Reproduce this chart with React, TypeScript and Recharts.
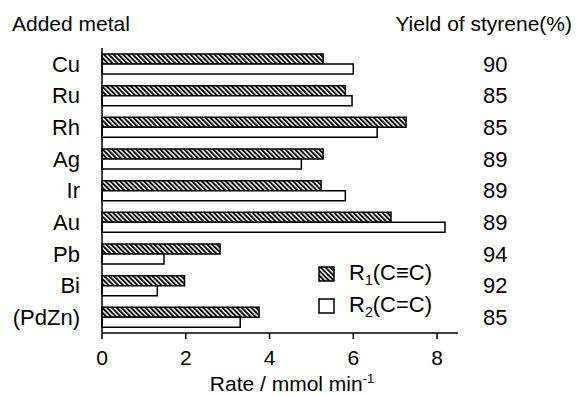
import React from 'react';
import { BarChart, Bar, XAxis, YAxis, Legend, Label } from 'recharts';

const metals = ['Cu', 'Ru', 'Rh', 'Ag', 'Ir', 'Au', 'Pb', 'Bi', '(PdZn)'];
const rateR1 = [5.28, 5.81, 7.26, 5.28, 5.23, 6.9, 2.82, 1.97, 3.75];
const rateR2 = [6.0, 5.97, 6.57, 4.76, 5.81, 8.19, 1.48, 1.32, 3.3];
const yields = [90, 85, 85, 89, 89, 89, 94, 92, 85];
const rateTicks = [0, 2, 4, 6, 8];

const rows = metals.map((metal, i) => ({ metal, r1: rateR1[i], r2: rateR2[i], yield: yields[i] }));

const FONT = '"Liberation Sans", Arial, sans-serif';
const TEXT_SIZE = 21;

const HatchIcon = ({ hatched }: { hatched: boolean }) => (
    <svg width={17} height={16} style={{ display: 'block' }}>
        <defs>
            <pattern id="legendHatch" patternUnits="userSpaceOnUse" width={3.4} height={3.4} patternTransform="rotate(-45)">
                <rect width={3.4} height={3.4} fill="#fff" />
                <rect width={1.9} height={3.4} fill="#000" />
            </pattern>
        </defs>
        <rect x={1} y={1} width={15} height={14} fill={hatched ? 'url(#legendHatch)' : '#fff'} stroke="#000" strokeWidth={1.5} />
    </svg>
);

const renderLegend = (props: any) => {
    const { payload } = props;
    return (
        <div style={{ fontFamily: FONT, fontSize: 22, color: '#000' }}>
            {payload.map((entry: any) => (
                <div key={entry.dataKey} style={{ display: 'flex', alignItems: 'center', height: 32 }}>
                    <HatchIcon hatched={entry.dataKey === 'r1'} />
                    <span style={{ marginLeft: 14 }}>
                        R<sub style={{ fontSize: 14 }}>{entry.dataKey === 'r1' ? '1' : '2'}</sub>
                        {entry.dataKey === 'r1' ? '(C\u2261C)' : '(C=C)'}
                    </span>
                </div>
            ))}
        </div>
    );
};

// axis title with the superscript -1
const RateLabel = (props: any) => {
    const { viewBox } = props;
    const cx = viewBox.x + viewBox.width / 2 + 12;
    return (
        <text x={cx} y={viewBox.y + 58} textAnchor="middle" fontFamily={FONT} fontSize={TEXT_SIZE} fill="#000">
            Rate / mmol min
            <tspan fontSize={13} dy={-8}>-1</tspan>
        </text>
    );
};

export default function App() {
    return (
        <div style={{ position: 'absolute', left: 0, top: 0, width: 577, height: 396, background: '#fff', fontFamily: FONT }}>
            <div style={{ position: 'absolute', left: 12, top: 10, fontSize: TEXT_SIZE, color: '#000', lineHeight: '28px' }}>Added metal</div>
            <div style={{ position: 'absolute', right: 5, top: 10, fontSize: TEXT_SIZE, color: '#000', lineHeight: '28px' }}>Yield of styrene(%)</div>
            <BarChart
                width={577}
                height={396}
                data={rows}
                layout="vertical"
                margin={{ top: 48, right: 19, left: 12, bottom: 0 }}
                barSize={10}
                barGap={0}
            >
                <defs>
                    <pattern id="barHatch" patternUnits="userSpaceOnUse" width={3.4} height={3.4} patternTransform="rotate(-45)">
                        <rect width={3.4} height={3.4} fill="#fff" />
                        <rect width={1.9} height={3.4} fill="#000" />
                    </pattern>
                </defs>
                <XAxis
                    type="number"
                    domain={[0, 8.5]}
                    ticks={rateTicks}
                    height={63}
                    axisLine={{ stroke: '#000', strokeWidth: 1.5 }}
                    tickLine={{ stroke: '#000', strokeWidth: 1.5 }}
                    tickSize={6}
                    tickMargin={11}
                    tick={{ fill: '#000', fontSize: TEXT_SIZE, fontFamily: FONT }}
                >
                    <Label content={<RateLabel />} />
                </XAxis>
                <YAxis
                    type="category"
                    dataKey="metal"
                    width={90}
                    axisLine={{ stroke: '#000', strokeWidth: 1.5 }}
                    tickLine={false}
                    tickSize={0}
                    tickMargin={22}
                    tick={{ fill: '#000', fontSize: 22, fontFamily: FONT }}
                    interval={0}
                />
                <YAxis
                    yAxisId="yield"
                    orientation="right"
                    type="category"
                    dataKey="metal"
                    width={100}
                    axisLine={false}
                    tickLine={false}
                    tickSize={0}
                    tickMargin={25}
                    interval={0}
                    tickFormatter={(m: string) => String(yields[metals.indexOf(m)])}
                    tick={{ fill: '#000', fontSize: 22, fontFamily: FONT, textAnchor: 'start' }}
                />
                <Legend
                    layout="vertical"
                    align="center"
                    verticalAlign="middle"
                    content={renderLegend}
                    wrapperStyle={{ position: 'absolute', left: 318, top: 258, width: 'auto' }}
                />
                <Bar dataKey="r1" name="R1(C≡C)" fill="url(#barHatch)" stroke="#000" strokeWidth={1.5} isAnimationActive={false} />
                <Bar dataKey="r2" name="R2(C=C)" fill="#fff" stroke="#000" strokeWidth={1.5} isAnimationActive={false} />
            </BarChart>
        </div>
    );
}
